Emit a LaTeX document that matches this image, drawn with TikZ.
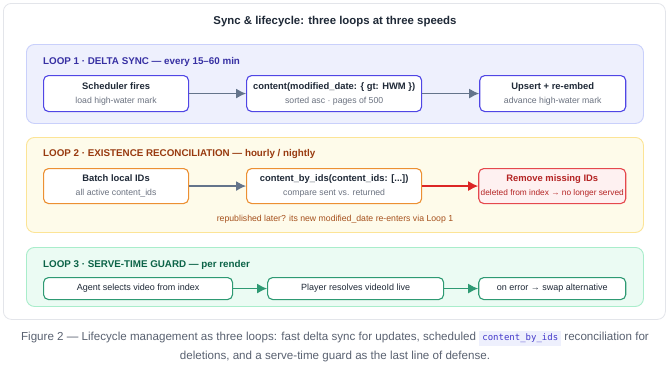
\documentclass[tikz,border=0pt]{standalone}
\usepackage{fontspec}
\setmainfont{Liberation Sans}
\setmonofont{DejaVu Sans Mono}
\usetikzlibrary{positioning, arrows.meta}

\definecolor{cardline}{HTML}{E3E5EA}
\definecolor{ink}{HTML}{1F2937}
\definecolor{subgray}{HTML}{6B7280}
\definecolor{capgray}{HTML}{596170}
\definecolor{arrgray}{HTML}{64748B}
\definecolor{indfill}{HTML}{EEF0FD}
\definecolor{indline}{HTML}{C9D0FB}
\definecolor{indtext}{HTML}{3730A3}
\definecolor{indbox}{HTML}{5046E5}
\definecolor{ambfill}{HTML}{FEFBEA}
\definecolor{ambline}{HTML}{FCE496}
\definecolor{ambtext}{HTML}{983A0F}
\definecolor{ambbox}{HTML}{EC9033}
\definecolor{notetext}{HTML}{A5501C}
\definecolor{redfill}{HTML}{FEF1F1}
\definecolor{redline}{HTML}{E5484D}
\definecolor{redtext}{HTML}{B42323}
\definecolor{redarr}{HTML}{DC2626}
\definecolor{grnfill}{HTML}{EBFBF3}
\definecolor{grnline}{HTML}{A9EDCB}
\definecolor{grntext}{HTML}{0B6347}
\definecolor{grnbox}{HTML}{2E9A73}
\definecolor{chipfill}{HTML}{EEF0FD}
\definecolor{chiptext}{HTML}{4338CA}

\newcommand{\ttl}[1]{{\bfseries\fontsize{9.4}{11}\selectfont\color{ink}#1}}
\newcommand{\subtxt}[1]{{\fontsize{8.7}{10}\selectfont\color{subgray}#1}}

\begin{document}
\begin{tikzpicture}[
  x=1pt, y=-1pt,
  >=Latex,
  card/.style={draw=cardline, fill=white, rounded corners=8pt, line width=0.8pt, anchor=north west, minimum width=662pt, minimum height=316pt},
  panel/.style={rounded corners=8pt, line width=0.9pt, anchor=north west, minimum width=617pt},
  lbl/.style={anchor=west, inner sep=0pt, font=\bfseries\fontsize{9.8}{11}\selectfont},
  box/.style={draw, fill=white, rounded corners=5pt, line width=1.1pt, align=center, inner sep=1pt},
  boxa/.style={box, draw=indbox, minimum height=36pt},
  boxb/.style={box, draw=ambbox, minimum height=35pt},
  boxc/.style={box, draw=grnbox, minimum height=22pt, font=\fontsize{9}{11}\selectfont, text=ink},
  arr/.style={-{Latex[length=10pt, width=10pt]}, line width=1.5pt, draw=arrgray},
  redarrow/.style={-{Latex[length=10pt, width=10pt]}, line width=1.5pt, draw=redarr},
  grnarrow/.style={-{Latex[length=10pt, width=10pt]}, line width=1.5pt, draw=grnbox}
]
  \useasboundingbox (0,0) rectangle (670,370);

  \node[card] (card) at (3,3) {};
  \node[font=\bfseries\fontsize{11.4}{13}\selectfont, text=ink] (title) at (335,22) {Sync \& lifecycle: three loops at three speeds};

  % loop 1
  \node[panel, draw=indline, fill=indfill, minimum height=79pt] (loop1) at (26,44) {};
  \node[lbl, text=indtext] (lab1) at (43,62) {LOOP 1 · DELTA SYNC — every 15–60 min};
  \node[boxa, minimum width=145pt, anchor=north west] (sched) at (43,75) {\ttl{Scheduler fires}\\[2pt]\subtxt{load high-water mark}};
  \node[boxa, minimum width=175pt, right=57pt of sched] (delta) {\ttl{content(modified\_date: \{ gt: HWM \})}\\[2pt]\subtxt{sorted asc · pages of 500}};
  \node[boxa, minimum width=146pt, right=57pt of delta] (upsert) {\ttl{Upsert + re-embed}\\[2pt]\subtxt{advance high-water mark}};

  \draw[arr] (sched) -- (delta);
  \draw[arr] (delta) -- (upsert);

  % loop 2
  \node[panel, draw=ambline, fill=ambfill, minimum height=95pt] (loop2) at (26,137) {};
  \node[lbl, text=ambtext] (lab2) at (43,154) {LOOP 2 · EXISTENCE RECONCILIATION — hourly / nightly};
  \node[boxb, minimum width=145pt, anchor=north west] (batch) at (43,168) {\ttl{Batch local IDs}\\[2pt]\subtxt{all active content\_ids}};
  \node[boxb, minimum width=175pt, right=57pt of batch] (byids) {\ttl{content\_by\_ids(content\_ids: [...])}\\[2pt]\subtxt{compare sent vs. returned}};
  \node[box, draw=redline, fill=redfill, minimum height=35pt, minimum width=147pt, right=56pt of byids] (remove) {{\bfseries\fontsize{9.4}{11}\selectfont\color{redtext}Remove missing IDs}\\[2pt]{\fontsize{8.3}{10}\selectfont\color{redtext}deleted from index → no longer served}};
  \node[font=\fontsize{8.7}{10}\selectfont, text=notetext] (note) at (335,219) {republished later? its new modified\_date re-enters via Loop 1};

  \draw[arr] (batch) -- (byids);
  \draw[redarrow] (byids) -- (remove);

  % loop 3
  \node[panel, draw=grnline, fill=grnfill, minimum height=59pt] (loop3) at (26,247) {};
  \node[lbl, text=grntext] (lab3) at (43,265) {LOOP 3 · SERVE-TIME GUARD — per render};
  \node[boxc, minimum width=189pt, anchor=north west] (agent) at (43,277) {Agent selects video from index};
  \node[boxc, minimum width=176pt, right=34pt of agent] (player) {Player resolves videoId live};
  \node[boxc, minimum width=147pt, right=34pt of player] (swap) {on error → swap alternative};

  \draw[grnarrow] (agent) -- (player);
  \draw[grnarrow] (player) -- (swap);

  % caption
  \node[align=center, text=capgray, font=\fontsize{11.6}{19}\selectfont] (caption) at (335,346.5) {Figure 2 — Lifecycle management as three loops: fast delta sync for updates, scheduled \colorbox{chipfill}{\ttfamily\fontsize{9}{10}\selectfont\color{chiptext}content\_by\_ids} reconciliation for\\deletions, and a serve-time guard as the last line of defense.};
\end{tikzpicture}
\end{document}
